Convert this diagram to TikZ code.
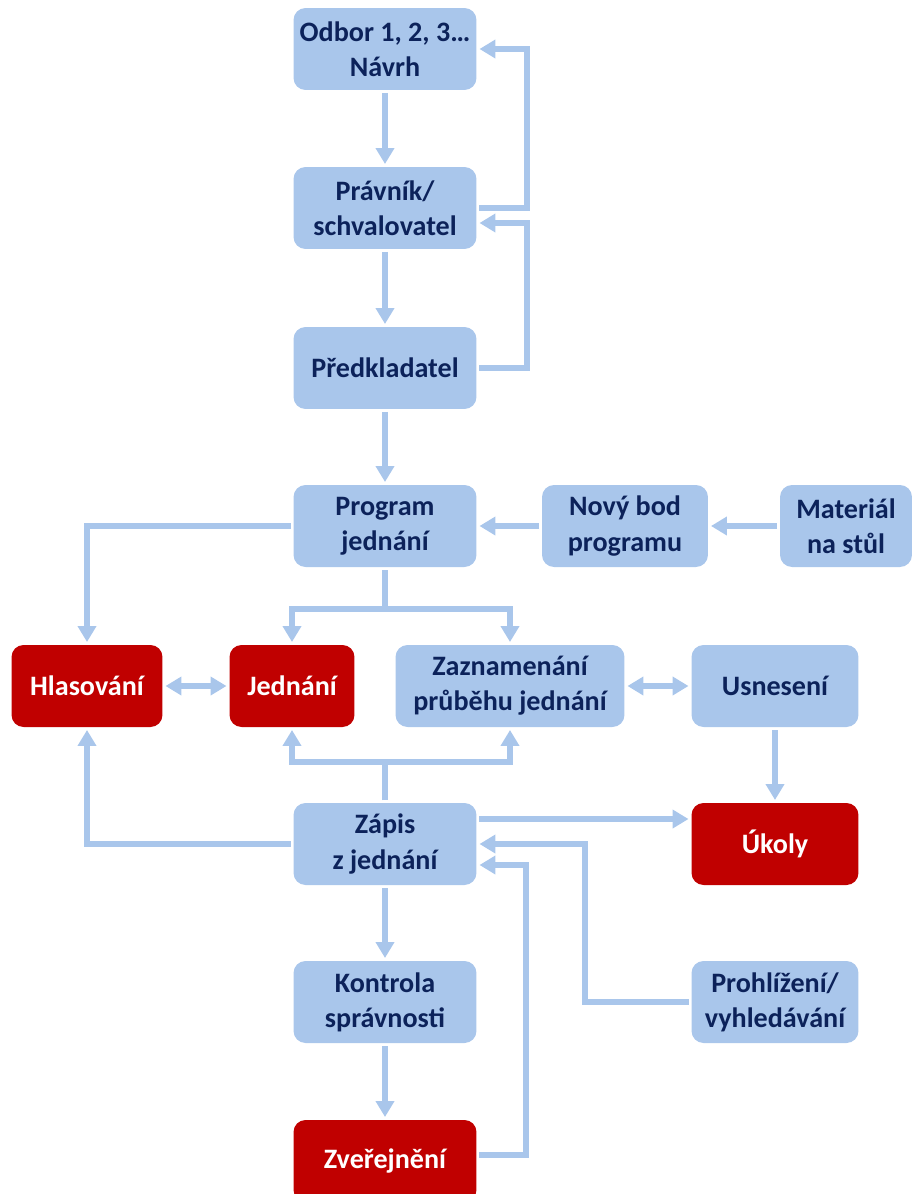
\documentclass[tikz,border=0pt]{standalone}
\usepackage{fontspec}
\setmainfont{Carlito}
\usepackage{tikz}
\usetikzlibrary{arrows.meta}
\definecolor{box_blue}{RGB}{169,198,235}
\definecolor{box_red}{RGB}{192,0,0}
\definecolor{text_blue}{RGB}{12,34,90}

\begin{document}
\begin{tikzpicture}[->,line width=0.12cm,>={Triangle[width=0.36cm,length=0.32cm]},box_blue,x=0.02cm,y=-0.02cm]
    \tikzstyle{box}=[draw=none, fill=box_blue, rounded corners=0.24cm, text=text_blue, font=\fontsize{16}{20}\selectfont\bfseries, align=center, minimum width=3.66cm, minimum height=1.64cm, inner sep=0pt]
    \tikzstyle{rbox}=[style=box, fill=box_red, text=white]
    \useasboundingbox (0,0) rectangle (913,1194);

    \node[box] (odbor)   at (385,49)   {Odbor 1, 2, 3…\\Návrh};
    \node[box] (pravnik) at (385,208)  {Právník/\\schvalovatel};
    \node[box] (predkl)  at (385,368)  {Předkladatel};
    \node[box] (program) at (385,526)  {Program\\jednání};
    \node[box,minimum width=3.32cm] (novy)     at (625,526) {Nový bod\\programu};
    \node[box,minimum width=2.64cm] (material) at (846,526) {Materiál\\na stůl};
    \node[rbox,minimum width=3.02cm] (hlas)    at (87,686)  {Hlasování};
    \node[rbox,minimum width=2.5cm]  (jednani) at (292,686) {Jednání};
    \node[box,minimum width=4.58cm]  (zazn)    at (510,686) {Zaznamenání\\průběhu jednání};
    \node[box,minimum width=3.34cm]  (usnes)   at (775,686) {Usnesení};
    \node[box] (zapis)   at (385,844)  {Zápis\\z jednání};
    \node[rbox,minimum width=3.34cm] (ukoly)   at (775,844) {Úkoly};
    \node[box] (kontrola) at (385,1002) {Kontrola\\správnosti};
    \node[box,minimum width=3.34cm]  (prohl)   at (775,1002) {Prohlížení/\\vyhledávání};
    \node[rbox] (zverej) at (385,1161) {Zveřejnění};

    % schvalovani navrhu
    \draw (odbor) -- (pravnik);
    \draw (pravnik.east) -- ++(48,0) |- (odbor.east);
    \draw (pravnik) -- (predkl);
    \draw (predkl.east) -- ++(48,0) |- ([yshift=-0.3cm]pravnik.east);
    \draw (predkl) -- (program);
    \draw (novy) -- (program);
    \draw (material) -- (novy);

    % jednani
    \draw (program.west) -| (hlas.north);
    \draw (program.south) -- ++(0,39) -| (jednani.north);
    \draw (program.south) -- ++(0,39) -| (zazn.north);
    \draw[<->] (hlas) -- (jednani);
    \draw[<->] (zazn) -- (usnes);
    \draw (usnes) -- (ukoly);

    % zapis
    \draw (zapis.north) -- ++(0,-38) -| (jednani.south);
    \draw (zapis.north) -- ++(0,-38) -| (zazn.south);
    \draw (zapis.west) -| (hlas.south);
    \draw ([yshift=0.5cm]zapis.east) -- ([yshift=0.5cm]ukoly.west);
    \draw (prohl.west) -- ++(-104,0) |- (zapis.east);
    \draw ([yshift=0.12cm]zverej.east) -- ++(47,0) |- ([yshift=-0.42cm]zapis.east);
    \draw (zapis) -- (kontrola);
    \draw (kontrola) -- (zverej);
\end{tikzpicture}
\end{document}
